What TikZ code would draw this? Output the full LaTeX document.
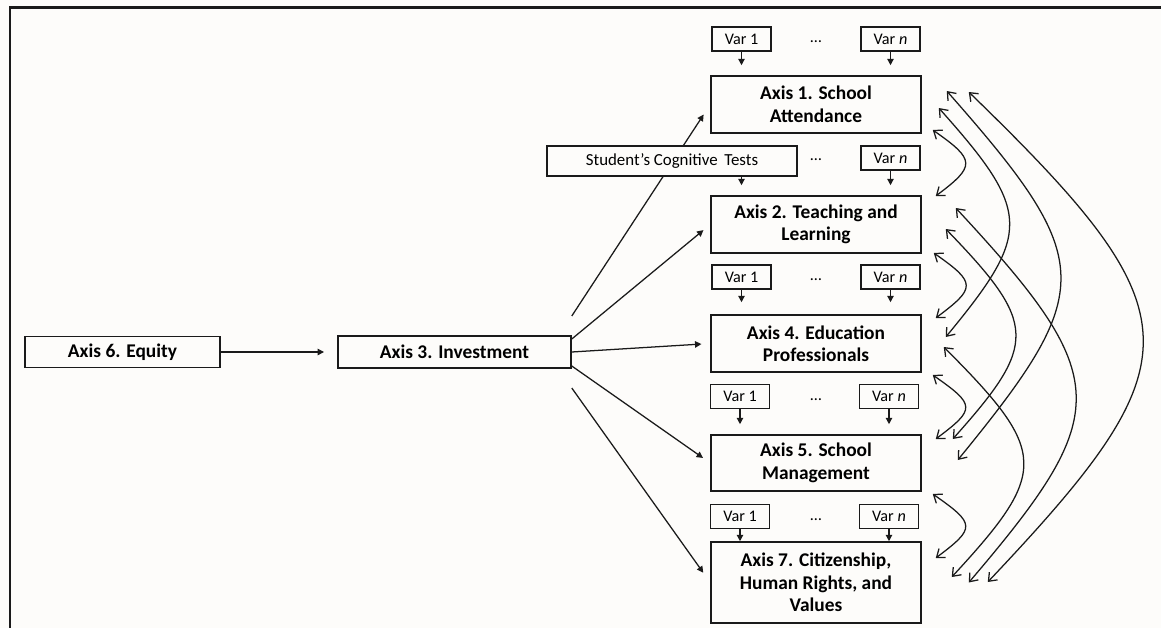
\documentclass[tikz,border=0pt]{standalone}
\usepackage{fontspec}
\setmainfont{Carlito}
\usepackage{tikz}
\usetikzlibrary{calc, positioning, arrows.meta}
\definecolor{InkBlack}{HTML}{1A1A1A}
\definecolor{PaperWhite}{HTML}{FDFCFA}

\begin{document}
\begin{tikzpicture}[
      axisbox/.style={draw=InkBlack, line width=1.1pt, fill=PaperWhite, inner sep=1pt,
                      minimum width=5.25cm, minimum height=1.425cm, align=center,
                      font=\fontsize{13.8}{16}\selectfont\bfseries},
      varbox/.style={draw=InkBlack, line width=0.9pt, fill=PaperWhite, inner sep=0pt,
                     minimum width=1.475cm, minimum height=0.6cm, font=\fontsize{11.5}{13}\selectfont},
      ellip/.style={font=\fontsize{11.5}{13}\selectfont},
      feed/.style={-{Triangle[length=1.6mm,width=1.6mm]}, line width=0.9pt, InkBlack},
      link/.style={{Straight Barb[length=1.8mm,width=2.8mm]}-{Straight Barb[length=1.8mm,width=2.8mm]},
                   line width=0.9pt, InkBlack}]
      % Page and frame
      \fill[PaperWhite] (0,0) rectangle (29.025,-15.7);
      \useasboundingbox (0,0) rectangle (29.025,-15.7);
      \draw[InkBlack, line width=1.5pt] (0.25,-15.7) -- (0.25,-0.1875) -- (29.025,-0.1875);

      % Left chain
      \node[axisbox, minimum width=4.875cm, minimum height=0.775cm] (equity) at (3.0625,-8.8) {Axis 6. Equity};
      \node[axisbox, minimum width=5.825cm, minimum height=0.8cm] (invest) at (11.3625,-8.8) {Axis 3. Investment};

      % Axis column
      \node[axisbox] (ax1) at (20.4,-2.6125) {Axis 1. School\\Attendance};
      \node[axisbox] (ax2) at (20.4,-5.6125) {Axis 2. Teaching and\\Learning};
      \node[axisbox] (ax4) at (20.4,-8.5875) {Axis 4. Education\\Professionals};
      \node[axisbox, minimum height=1.4cm] (ax5) at (20.4,-11.575) {Axis 5. School\\Management};
      \node[axisbox, minimum height=2.025cm] (ax7) at (20.4,-14.5625) {Axis 7. Citizenship,\\Human Rights, and\\Values};

      % Variables over each axis
      \node[varbox] (v1a) at (18.5375,-0.975) {Var 1};
      \node[varbox] (v1n) at (22.2625,-0.975) {Var \textit{n}};
      \node[ellip] (d1) at (20.4,-1.05) {\dots};
      \node[varbox] (v2n) at (22.2625,-3.95) {Var \textit{n}};
      \node[ellip] (d2) at (20.4,-4.0) {\dots};
      \node[varbox] (v4a) at (18.5375,-6.925) {Var 1};
      \node[varbox] (v4n) at (22.2625,-6.925) {Var \textit{n}};
      \node[ellip] (d4) at (20.4,-7.0) {\dots};
      \node[varbox] (v5a) at (18.5,-9.9125) {Var 1};
      \node[varbox] (v5n) at (22.225,-9.9125) {Var \textit{n}};
      \node[ellip] (d5) at (20.4,-9.99) {\dots};
      \node[varbox] (v7a) at (18.5,-12.9125) {Var 1};
      \node[varbox] (v7n) at (22.225,-12.9125) {Var \textit{n}};
      \node[ellip] (d7) at (20.4,-12.99) {\dots};

      % Arrows into the axes
      \draw[feed, shorten >=0.33cm] (equity.east) -- (invest.west);
      \draw[feed, shorten >=0.3cm] ([yshift=0.9cm]invest.east) -- (ax1.west);
      \draw[feed, shorten >=0.22cm] ([yshift=0.325cm]invest.east) -- (ax2.west);
      \draw[feed, shorten >=0.22cm] (invest.east) -- (ax4.west);
      \draw[feed, shorten >=0.22cm] ([yshift=-0.35cm]invest.east) -- (ax5.west);
      \draw[feed, shorten >=0.3cm] ([yshift=-0.9cm]invest.east) -- (ax7.west);

      % Test box sits over the Axis 1 arrow
      \node[varbox, minimum width=6.25cm, minimum height=0.75cm, font=\fontsize{12}{14}\selectfont] (cog) at (16.8,-4.025) {Student’s Cognitive\,\ Tests};

      \draw[feed, shorten >=0.25cm] (v1a.south) -- (v1a.south |- ax1.north);
      \draw[feed, shorten >=0.25cm] (v1n.south) -- (v1n.south |- ax1.north);
      \draw[feed, shorten >=0.25cm] (v1a.south |- cog.south) -- (v1a.south |- ax2.north);
      \draw[feed, shorten >=0.25cm] (v2n.south) -- (v2n.south |- ax2.north);
      \draw[feed, shorten >=0.3cm] (v4a.south) -- (v4a.south |- ax4.north);
      \draw[feed, shorten >=0.3cm] (v4n.south) -- (v4n.south |- ax4.north);
      \draw[feed, shorten >=0.25cm] (v5a.south) -- (v5a.south |- ax5.north);
      \draw[feed, shorten >=0.25cm] (v5n.south) -- (v5n.south |- ax5.north);
      \draw[feed] (v7a.south) -- (v7a.south |- ax7.north);
      \draw[feed] (v7n.south) -- (v7n.south |- ax7.north);

      % Links between neighbouring axes
      \draw[link] ([shift={(0.275,-0.6375)}]ax1.east) .. controls +(1.075,-0.75) and +(1.0,0.75) .. ([shift={(0.35,0.7125)}]ax2.east);
      \draw[link] ([shift={(0.3,-0.7125)}]ax2.east) .. controls +(1.075,-0.75) and +(1.0,0.75) .. ([shift={(0.35,0.6375)}]ax4.east);
      \draw[link] ([shift={(0.275,-0.7875)}]ax4.east) .. controls +(1.075,-0.75) and +(1.0,0.75) .. ([shift={(0.35,0.6)}]ax5.east);
      \draw[link] ([shift={(0.275,-0.775)}]ax5.east) .. controls +(1.075,-0.75) and +(1.0,0.75) .. ([shift={(0.35,0.6125)}]ax7.east);

      % Links between distant axes
      \draw[link] ([shift={(0.425,-0.0875)}]ax1.east) .. controls +(2.325,-2.6) and +(2.15,2.6) .. ([shift={(0.6,0.1625)}]ax4.east);
      \draw[link] ([shift={(0.625,0.3375)}]ax1.east) .. controls +(3.75,-4.25) and +(3.475,4.25) .. ([shift={(0.9,0.075)}]ax5.east);
      \draw[link] ([shift={(1.175,0.3125)}]ax1.east) .. controls +(5.725,-5.55) and +(5.25,5.55) .. ([shift={(1.65,0.0125)}]ax7.east);
      \draw[link] ([shift={(0.6,-0.1125)}]ax2.east) .. controls +(2.3,-2.375) and +(2.125,2.375) .. ([shift={(0.775,0.6)}]ax5.east);
      \draw[link] ([shift={(0.85,0.4125)}]ax2.east) .. controls +(3.95,-4.25) and +(3.625,4.25) .. ([shift={(1.175,0)}]ax7.east);
      \draw[link] ([shift={(0.55,-0.0875)}]ax4.east) .. controls +(2.625,-2.625) and +(2.425,2.625) .. ([shift={(0.75,0.1375)}]ax7.east);
    \end{tikzpicture}
\end{document}
